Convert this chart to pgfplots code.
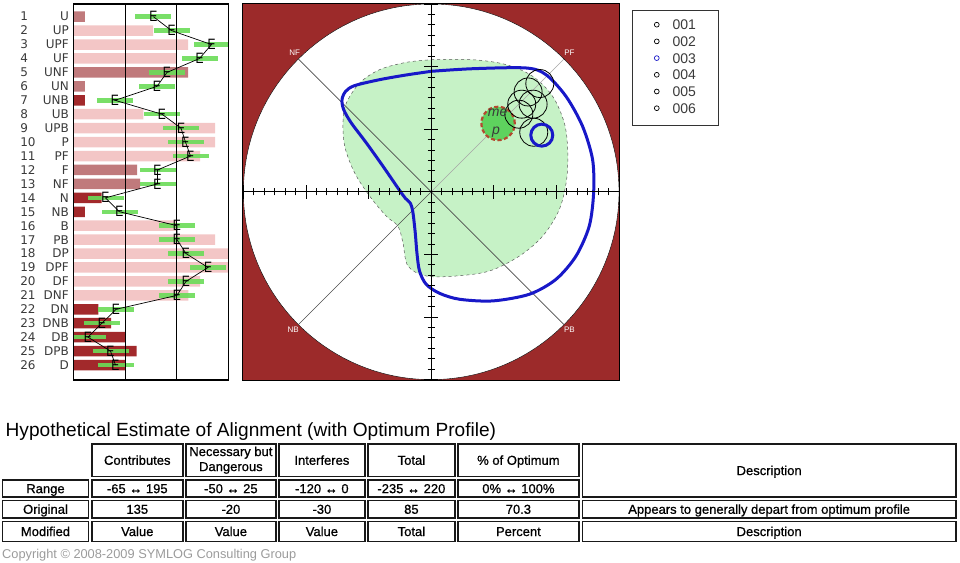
\documentclass[border=0pt]{standalone}
\usepackage{fontspec}
\setmainfont{Liberation Sans}
\newfontfamily\dejavu{DejaVu Sans}
\newfontfamily\tabfam[FakeBold=0.8]{Liberation Sans}
\usepackage{pgfplots}
\usepackage{pgfplotstable}
\pgfplotsset{compat=1.18}

\definecolor{BarLight}{HTML}{F3C6C6}
\definecolor{BarMid}{HTML}{C07A7C}
\definecolor{BarDark}{HTML}{A2292B}
\definecolor{FieldRed}{HTML}{9C2A2A}
\definecolor{ZoneGreen}{HTML}{C6F2C6}
\definecolor{SpanGreen}{HTML}{6ADC58}
\definecolor{MepGreen}{HTML}{5ED25E}
\definecolor{MepRed}{HTML}{B4492F}
\definecolor{LineBlue}{HTML}{1818C8}
\definecolor{LabelGrey}{HTML}{3A3A3A}
\definecolor{CopyGrey}{HTML}{9B9B9B}

% bar lengths per row, split by shade (nan = not that shade)
\pgfplotstableread{
row light med dark
1 nan 11.7 nan
2 79.7 nan nan
3 114.7 nan nan
4 103.4 nan nan
5 nan 114.7 nan
6 nan 11.7 nan
7 nan nan 11.7
8 70 nan nan
9 141.7 nan nan
10 141.7 nan nan
11 126.7 nan nan
12 nan 63.7 nan
13 nan 66.7 nan
14 nan nan 28.4
15 nan nan 11.7
16 103.4 nan nan
17 141.7 nan nan
18 155.4 nan nan
19 155.4 nan nan
20 126.7 nan nan
21 115 nan nan
22 nan nan 25
23 nan nan 37.7
24 nan nan 52
25 nan nan 63.4
26 nan nan 52
}\barsdata

% expected values (E) and their spread
\pgfplotstableread{
row e err
1 80.1 18
2 98.3 18
3 138.2 18
4 126.2 18
5 93.7 18
6 83.7 18
7 41.7 18
8 88.7 18
9 107.7 18
10 112.2 18
11 117.2 18
12 84.2 18
13 84.2 18
14 32.2 18
15 46.2 18
16 103.7 18
17 103.7 18
18 112.7 18
19 134.7 18
20 112.7 18
21 103.7 18
22 42.7 18
23 28.7 18
24 14.7 18
25 37.2 18
26 42.2 18
}\edata

\pgfplotstableread{
x y
0 12.66
3.99 12.66
7.18 12.19
9.73 11.07
11.64 9.15
12.76 6.60
13.08 4.05
12.98 1.18
12.28 -1.69
10.69 -4.24
8.45 -6.16
5.58 -7.59
2.39 -8.07
-0.48 -8.07
-2.23 -7.11
-2.71 -4.88
-3.19 -3.29
-4.31 -2.33
-5.90 -0.41
-7.34 1.82
-8.29 4.37
-8.45 6.92
-8.13 8.52
-6.86 10.43
-4.94 11.71
-2.39 12.41
0 12.66
}\zonedata

\pgfplotstableread{
x y
0 11.55
3.99 11.80
9.09 11.87
11.00 11.23
12.92 9.15
14.51 6.28
15.47 3.09
15.57 -0.10
15.15 -3.29
13.88 -6.16
11.96 -8.39
9.41 -9.82
5.90 -10.46
2.71 -10.30
0.80 -9.73
-0.48 -8.87
-1.12 -7.59
-1.37 -5.84
-1.53 -3.92
-1.75 -2.01
-1.98 -1.12
-2.46 -0.64
-3.09 0.22
-4.63 2.46
-6.22 4.69
-7.66 6.60
-8.39 7.88
-8.55 8.84
-8.20 9.63
-7.34 10.18
-4.94 10.75
-2.39 11.20
0 11.55
}\contourdata

\pgfplotstableread{
x y
10.41 10.38
9.29 9.57
9.77 8.40
8.68 8.40
8.40 7.44
9.83 5.71
}\membersdata

\newcommand\rl[2]{\makebox[48.5pt][s]{#1\hfill #2}}
\newcommand\tabfont{\tabfam\fontsize{13}{15}\selectfont}
\newcommand\cell[5]{%
  \draw[line width=1.6pt, draw=black!90] (#1,#2) rectangle (#3,#4);
  \node[font=\tabfont, inner sep=0pt, text height=9.3pt, text depth=0pt]
    at ({(#1+#3)/2},{(#2+#4)/2}) {#5};}

\begin{document}
\begin{tikzpicture}
\path[use as bounding box] (0pt,0pt) rectangle (960pt,-562pt);

% ---- left profile bars ----
\begin{axis}[
  at={(73.3pt,-4pt)}, anchor=north west,
  scale only axis, width=155.4pt, height=376pt,
  xmin=0, xmax=155.4, ymin=0.09, ymax=27.075, y dir=reverse,
  axis line style={line width=1.3pt, black},
  xtick={52,103.4}, xticklabels={}, xmajorgrids,
  grid style={black, line width=0.9pt},
  major tick length=0pt,
  ytick={1,...,26},
  yticklabels={{\rl{1}{U}},{\rl{2}{UP}},{\rl{3}{UPF}},{\rl{4}{UF}},{\rl{5}{UNF}},{\rl{6}{UN}},{\rl{7}{UNB}},{\rl{8}{UB}},{\rl{9}{UPB}},{\rl{10}{P}},{\rl{11}{PF}},{\rl{12}{F}},{\rl{13}{NF}},{\rl{14}{N}},{\rl{15}{NB}},{\rl{16}{B}},{\rl{17}{PB}},{\rl{18}{DP}},{\rl{19}{DPF}},{\rl{20}{DF}},{\rl{21}{DNF}},{\rl{22}{DN}},{\rl{23}{DNB}},{\rl{24}{DB}},{\rl{25}{DPB}},{\rl{26}{D}}},
  yticklabel style={anchor=east, inner sep=0pt, xshift=-4.3pt, font=\dejavu\fontsize{12}{13}\selectfont, text=LabelGrey},
  axis on top,
]
\addplot[xbar, bar width=10.5pt, bar shift=0pt, fill=BarLight, draw=none] table[x=light, y=row] {\barsdata};
\addplot[xbar, bar width=10.5pt, bar shift=0pt, fill=BarMid, draw=none] table[x=med, y=row] {\barsdata};
\addplot[xbar, bar width=10.5pt, bar shift=0pt, fill=BarDark, draw=none] table[x=dark, y=row] {\barsdata};
\addplot[draw=none, error bars/.cd, x dir=both, x explicit, error mark=none,
  error bar style={line width=4.5pt, draw=SpanGreen, opacity=0.9}]
  table[x=e, y=row, x error=err] {\edata};
\addplot[black, line width=0.7pt, mark=text, text mark={E}, text mark as node=true,
  text mark style={font=\fontsize{15}{15}\selectfont, inner sep=0pt, xscale=0.8}]
  table[x=e, y=row] {\edata};
\end{axis}

% ---- field diagram ----
\begin{axis}[
  at={(242.7pt,-3.3pt)}, anchor=north west,
  scale only axis, width=377pt, height=377pt,
  xmin=-18.07, xmax=18.07, ymin=-18.07, ymax=18.07,
  axis lines=center, axis line style={-, line width=1.2pt, black},
  axis background/.style={fill=FieldRed, draw=black, line width=0.8pt},
  xtick={-18,-12,...,18}, ytick={-18,-12,...,18}, minor tick num=5,
  xticklabels={}, yticklabels={},
  tick align=center, major tick length=14pt, minor tick length=7pt,
  every tick/.style={black, line width=0.9pt},
  axis on top, clip marker paths=true,
  legend image code/.code={\draw[#1, line width=0.7pt] (0pt,0pt) circle (2.4pt);},
  legend style={draw=none, fill=none, at={(1.091,0.9565)}, anchor=north west,
    inner sep=0pt, outer sep=0pt, row sep=6.7pt, column sep=13pt,
    font=\fontsize{14}{16}\selectfont, text=LabelGrey,
    nodes={inner sep=0pt, text height=10pt, text depth=0pt}},
  legend cell align=left,
]
\addplot[forget plot, only marks, mark=*, mark size=187.8pt, mark options={fill=white, draw=none}] coordinates {(0,0)};
\addplot[forget plot, fill=ZoneGreen, draw=black!65, dashed, line width=0.5pt, smooth, tension=0.55] table {\zonedata} -- cycle;
\addplot[forget plot, black!70, line width=0.6pt] coordinates {(-12.73,12.73) (12.73,-12.73)};
\addplot[forget plot, black!70, line width=0.6pt] coordinates {(-12.73,-12.73) (0,0)};
\addplot[forget plot, black!35, line width=0.6pt] coordinates {(0,0) (12.73,12.73)};
\addplot[forget plot, LineBlue, line width=3pt, smooth, tension=0.5] table {\contourdata} -- cycle;
\addplot[forget plot, only marks, mark=*, mark size=16.7pt,
  mark options={fill=MepGreen, draw=MepRed, line width=2.2pt, dash pattern=on 4pt off 2.5pt}] coordinates {(6.41,6.55)};
\addplot[forget plot, only marks, mark=o, mark size=14pt, mark options={draw=black, line width=0.8pt}] table {\membersdata};
\addplot[forget plot, only marks, mark=o, mark size=11pt, mark options={draw=LineBlue, line width=3pt}] coordinates {(10.6,5.43)};
\node[font=\itshape\fontsize{14}{14}\selectfont, text=LabelGrey] at (axis cs:6.37,7.55) {me};
\node[font=\itshape\fontsize{14}{14}\selectfont, text=LabelGrey] at (axis cs:6.22,5.7) {p};
\node[font=\fontsize{8}{8}\selectfont, text=white] at (axis cs:-13.08,13.3) {NF};
\node[font=\fontsize{8}{8}\selectfont, text=white] at (axis cs:13.25,13.3) {PF};
\node[font=\fontsize{8}{8}\selectfont, text=white] at (axis cs:-13.24,-13.2) {NB};
\node[font=\fontsize{8}{8}\selectfont, text=white] at (axis cs:13.25,-13.2) {PB};
\addlegendimage{black}\addlegendentry{001}
\addlegendimage{black}\addlegendentry{002}
\addlegendimage{LineBlue}\addlegendentry{003}
\addlegendimage{black}\addlegendentry{004}
\addlegendimage{black}\addlegendentry{005}
\addlegendimage{black}\addlegendentry{006}
\end{axis}

\begin{scope}[x=1pt, y=-1pt]
\draw[line width=1pt, draw=black!80] (632,10) rectangle (718.5,125.5);
\node[anchor=base west, inner sep=0pt, font=\fontsize{19.1}{21}\selectfont] at (5.5,436) {Hypothetical Estimate of Alignment (with Optimum Profile)};
% header
\cell{91.8}{443.8}{182.8}{476.5}{Contributes}
\draw[line width=1.6pt, draw=black!90] (186,443.8) rectangle (275.8,476.5);
\node[font=\tabfont, inner sep=0pt, align=center] at (230.9,460.2) {Necessary but\\Dangerous};
\cell{279}{443.8}{364.8}{476.5}{Interferes}
\cell{368}{443.8}{454.8}{476.5}{Total}
\cell{458}{443.8}{578.8}{476.5}{\% of Optimum}
\cell{582.3}{443.8}{956}{497}{Description}
% range
\cell{2.5}{480}{88.5}{497}{Range}
\cell{91.8}{480}{182.8}{497}{-65 ↔ 195}
\cell{186}{480}{275.8}{497}{-50 ↔ 25}
\cell{279}{480}{364.8}{497}{-120 ↔ 0}
\cell{368}{480}{454.8}{497}{-235 ↔ 220}
\cell{458}{480}{578.8}{497}{0\% ↔ 100\%}
% original
\cell{2.5}{500.3}{88.5}{518}{Original}
\cell{91.8}{500.3}{182.8}{518}{135}
\cell{186}{500.3}{275.8}{518}{-20}
\cell{279}{500.3}{364.8}{518}{-30}
\cell{368}{500.3}{454.8}{518}{85}
\cell{458}{500.3}{578.8}{518}{70.3}
\cell{582.3}{500.3}{956}{518}{Appears to generally depart from optimum profile}
% modified
\cell{2.5}{521.3}{88.5}{541.5}{Modified}
\cell{91.8}{521.3}{182.8}{541.5}{Value}
\cell{186}{521.3}{275.8}{541.5}{Value}
\cell{279}{521.3}{364.8}{541.5}{Value}
\cell{368}{521.3}{454.8}{541.5}{Total}
\cell{458}{521.3}{578.8}{541.5}{Percent}
\cell{582.3}{521.3}{956}{541.5}{Description}
\node[anchor=base west, inner sep=0pt, font=\fontsize{12.8}{14}\selectfont, text=CopyGrey] at (2,558) {Copyright © 2008-2009 SYMLOG Consulting Group};
\end{scope}
\end{tikzpicture}
\end{document}
